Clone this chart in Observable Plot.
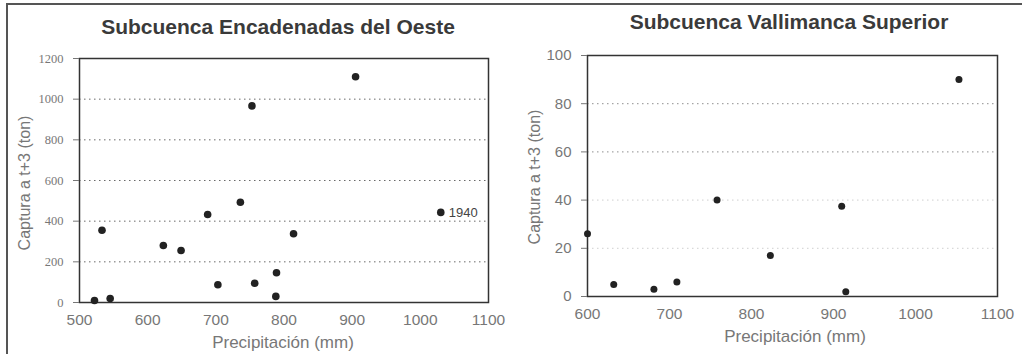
<!DOCTYPE html>
<html>
<head>
<meta charset="utf-8">
<script src="https://cdn.jsdelivr.net/npm/d3@7"></script>
<script src="https://cdn.jsdelivr.net/npm/@observablehq/plot@0.6"></script>
<style>
  html, body { margin: 0; padding: 0; background: #fff; }
  #wrap { position: relative; width: 1022px; height: 354px; overflow: hidden; background: #fff; }
  .frameline { position: absolute; background: #555; }
  .panel { position: absolute; top: 0; width: 511px; height: 354px; }
  .title { position: absolute; font-family: Arial, "Liberation Sans", sans-serif; font-weight: bold; font-size: 21px; color: #3a3a3a; white-space: nowrap; transform: translate(-50%, -50%); }
  .ylab { position: absolute; font-family: Arial, "Liberation Sans", sans-serif; font-size: 16px; color: #777; white-space: nowrap; transform: translate(-50%, -50%) rotate(-90deg); }
  .xlab { position: absolute; font-family: Arial, "Liberation Sans", sans-serif; font-size: 17px; color: #777; white-space: nowrap; transform: translate(-50%, -50%); }
  svg { position: absolute; left: 0; top: 0; }
</style>
</head>
<body>
<div id="wrap">
  <div class="panel" id="left" style="left:0"></div>
  <div class="panel" id="right" style="left:511px"></div>
  <div class="frameline" style="left:6px; top:3px; width:1016px; height:2px;"></div>
  <div class="frameline" style="left:6px; top:3px; width:2px; height:351px;"></div>
</div>
<script>
// Subcuenca Encadenadas del Oeste
const encPrecip = [522, 545, 533, 623, 649, 688, 703, 736, 753, 757, 789, 788, 814, 905, 1030];
const encCaptura = [10, 20, 355, 280, 256, 433, 87, 493, 967, 95, 146, 30, 338, 1110, 443];
const encLabels = ["", "", "", "", "", "", "", "", "", "", "", "", "", "", "1940"];
const encXTicks = [500, 600, 700, 800, 900, 1000, 1100];
const encYTicks = [0, 200, 400, 600, 800, 1000, 1200];
const encGrid = [200, 400, 600, 800, 1000];

// Subcuenca Vallimanca Superior
const valPrecip = [600, 632, 681, 709, 758, 823, 910, 915, 1053];
const valCaptura = [26, 5, 3, 6, 40, 17, 37.5, 2, 90];
const valXTicks = [600, 700, 800, 900, 1000, 1100];
const valYTicks = [0, 20, 40, 60, 80, 100];
const valGrid = [20, 40, 60, 80];

const titles = ["Subcuenca Encadenadas del Oeste", "Subcuenca Vallimanca Superior"];
const yTitle = "Captura a t+3 (ton)";
const xTitle = "Precipitación (mm)";

const encData = encPrecip.map((p, i) => ({p, c: encCaptura[i], lab: encLabels[i]}));
const valData = valPrecip.map((p, i) => ({p, c: valCaptura[i]}));

const sans = "Arial, 'Liberation Sans', sans-serif";
const fmt = d => String(d);

const left = Plot.plot({
  width: 511, height: 354,
  marginLeft: 79, marginRight: 23, marginTop: 58, marginBottom: 52,
  style: {background: "transparent", color: "#777"},
  x: {domain: [500, 1100]},
  y: {domain: [0, 1200]},
  marks: [
    Plot.gridY(encGrid, {stroke: "#444", strokeOpacity: 0.8, strokeDasharray: "1.5,3.5"}),
    Plot.frame({stroke: "#333", strokeWidth: 1.5}),
    Plot.axisY(encYTicks, {tickSize: 6, tickPadding: 10, tickFormat: fmt, fontSize: 12.5, fontFamily: "'Liberation Serif', 'DejaVu Serif', serif", fill: "#777", label: null}),
    Plot.axisX(encXTicks, {tickSize: 0, tickPadding: 11, tickFormat: fmt, fontSize: 15.5, fontFamily: sans, fill: "#777", label: null}),
    Plot.dot(encData, {x: "p", y: "c", r: 3.8, fill: "#222", stroke: null}),
    Plot.text(encData, {x: "p", y: "c", text: "lab", dx: 8, textAnchor: "start", fontSize: 13, fontFamily: sans, fill: "#444"})
  ]
});
document.getElementById("left").appendChild(left);

const right = Plot.plot({
  width: 511, height: 354,
  marginLeft: 76, marginRight: 25, marginTop: 55, marginBottom: 58,
  style: {background: "transparent", color: "#777"},
  x: {domain: [600, 1100]},
  y: {domain: [0, 100]},
  marks: [
    Plot.gridY(valGrid, {stroke: "#444", strokeOpacity: d => (d >= 60 ? 0.6 : 0.25), strokeDasharray: "1.5,3.5"}),
    Plot.frame({stroke: "#333", strokeWidth: 1.5}),
    Plot.axisY(valYTicks, {tickSize: 6, tickPadding: 10, tickFormat: fmt, fontSize: 15, fontFamily: sans, fill: "#777", label: null}),
    Plot.axisX(valXTicks, {tickSize: 0, tickPadding: 11, tickFormat: fmt, fontSize: 15.5, fontFamily: sans, fill: "#777", label: null}),
    Plot.dot(valData, {x: "p", y: "c", r: 3.5, fill: "#222", stroke: null})
  ]
});
document.getElementById("right").appendChild(right);

function addText(parent, cls, text, x, y) {
  const d = document.createElement("div");
  d.className = cls;
  d.textContent = text;
  d.style.left = x + "px";
  d.style.top = y + "px";
  parent.appendChild(d);
}
const L = document.getElementById("left"), R = document.getElementById("right");
addText(L, "title", titles[0], 278, 27);
addText(L, "ylab", yTitle, 25, 183);
addText(L, "xlab", xTitle, 283, 343);
addText(R, "title", titles[1], 278, 22);
addText(R, "ylab", yTitle, 24, 177);
addText(R, "xlab", xTitle, 284, 337);
</script>
</body>
</html>
